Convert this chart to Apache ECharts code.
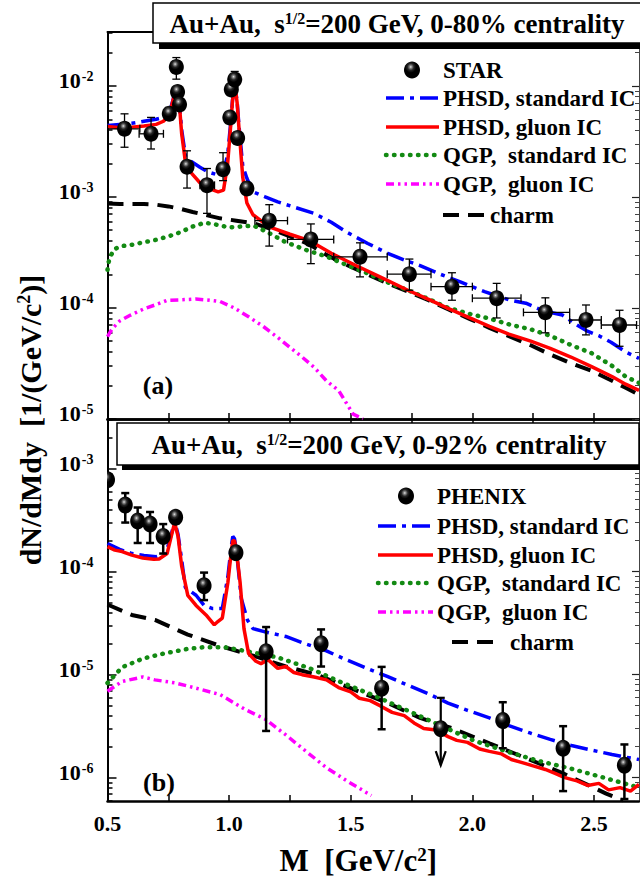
<!DOCTYPE html>
<html><head><meta charset="utf-8">
<script src="https://cdn.jsdelivr.net/npm/echarts@6/dist/echarts.min.js"></script>
<style>html,body{margin:0;padding:0;background:#fff}#c{width:640px;height:877px}</style>
</head><body><div id="c"></div>
<script>
// ================= DATA =================
// x-axis ticks / labels (GeV/c^2)
const xTickVals = [0.5,0.75,1.0,1.25,1.5,1.75,2.0,2.25,2.5];
const xLabelVals = [0.5,1.0,1.5,2.0,2.5];
const topDecades = [1e-5,1e-4,1e-3,1e-2];
const botDecades = [1e-6,1e-5,1e-4,1e-3];

// ---- panel (a): STAR, 0-80% ----
const starM   = [0.57,0.679,0.754,0.783,0.788,0.796,0.827,0.909,0.975,1.003,1.009,1.023,1.035,1.073,1.165,1.336,1.538,1.741,1.916,2.10,2.30,2.467,2.605];
const starY   = [4.1e-3,3.7e-3,5.6e-3,1.48e-2,8.8e-3,6.8e-3,1.87e-3,1.27e-3,1.77e-3,5.2e-3,9.3e-3,1.14e-2,3.4e-3,1.19e-3,6.1e-4,4.13e-4,2.88e-4,2.01e-4,1.55e-4,1.22e-4,9.1e-5,7.76e-5,7.0e-5];
const starYlo = [2.8e-3,2.7e-3,4.9e-3,1.15e-2,8.2e-3,6.2e-3,1.2e-3,7.1e-4,1.4e-3,4.7e-3,8.6e-3,9.8e-3,3.0e-3,1.05e-3,3.6e-4,2.5e-4,1.9e-4,1.44e-4,1.17e-4,8.1e-5,5.95e-5,5.7e-5,4.5e-5];
const starYhi = [5.6e-3,5.2e-3,6.4e-3,1.8e-2,9.4e-3,7.4e-3,2.6e-3,1.8e-3,2.5e-3,5.7e-3,1.0e-2,1.35e-2,3.8e-3,1.35e-3,8.5e-4,5.7e-4,3.85e-4,2.75e-4,2.07e-4,1.66e-4,1.23e-4,1.06e-4,9.5e-5];
const starXlo = [0.5,0.63,null,null,null,null,0.81,0.88,null,null,null,null,null,null,1.106,1.24,1.43,1.65,1.83,2.0,2.21,2.40,2.53];
const starXhi = [0.633,0.73,null,null,null,null,0.85,0.94,null,null,null,null,null,null,1.24,1.43,1.65,1.83,2.0,2.2,2.40,2.53,2.675];

const aStdM = [0.50,0.55,0.60,0.65,0.70,0.73,0.755,0.77,0.783,0.795,0.805,0.821,0.846,0.88,0.913,0.955,0.977,0.994,1.005,1.014,1.02,1.026,1.033,1.04,1.056,1.073,1.098,1.148,1.2,1.266,1.349,1.42,1.484,1.57,1.652,1.72,1.785,1.87,1.953,2.05,2.155,2.22,2.29,2.37,2.43,2.47,2.52,2.57,2.63,2.685];
const aStdY = [4.4e-3,4.5e-3,4.6e-3,4.8e-3,5.0e-3,5.2e-3,5.8e-3,7.6e-3,1.0e-2,7.2e-3,4.0e-3,2.3e-3,2.07e-3,1.85e-3,1.68e-3,1.57e-3,1.68e-3,2.4e-3,4.3e-3,7.5e-3,9.0e-3,9.3e-3,7.2e-3,4.5e-3,1.9e-3,1.47e-3,1.11e-3,1.0e-3,9.0e-4,8.1e-4,7.1e-4,5.9e-4,4.8e-4,3.8e-4,3.1e-4,2.7e-4,2.4e-4,2.0e-4,1.7e-4,1.4e-4,1.17e-4,1.1e-4,9.4e-5,8.6e-5,7.0e-5,6.2e-5,5.6e-5,4.9e-5,4.0e-5,3.5e-5];

const aGluM = [0.50,0.55,0.60,0.65,0.70,0.73,0.755,0.77,0.783,0.795,0.805,0.821,0.846,0.88,0.913,0.955,0.977,0.994,1.005,1.014,1.02,1.026,1.033,1.04,1.056,1.073,1.098,1.165,1.25,1.333,1.42,1.517,1.62,1.735,1.82,1.90,1.98,2.07,2.15,2.24,2.32,2.405,2.49,2.574,2.63,2.685];
const aGluY = [4.3e-3,4.2e-3,4.25e-3,4.35e-3,4.5e-3,4.8e-3,5.5e-3,7.5e-3,1.0e-2,7.0e-3,3.7e-3,2.0e-3,1.63e-3,1.34e-3,1.2e-3,1.11e-3,1.15e-3,2.0e-3,4.0e-3,7.4e-3,9.0e-3,9.3e-3,7.0e-3,4.3e-3,1.5e-3,8.8e-4,6.9e-4,5.37e-4,4.6e-4,4.0e-4,3.1e-4,2.43e-4,1.9e-4,1.44e-4,1.19e-4,9.9e-5,8.3e-5,6.8e-5,5.8e-5,5.0e-5,4.3e-5,3.6e-5,2.95e-5,2.4e-5,2.05e-5,1.8e-5];

const aQgpStdM = [0.50,0.505,0.515,0.53,0.56,0.60,0.65,0.70,0.75,0.80,0.85,0.90,0.95,1.00,1.05,1.10,1.15,1.233,1.32,1.40,1.48,1.567,1.65,1.735,1.82,1.90,1.99,2.07,2.16,2.24,2.32,2.407,2.49,2.574,2.63,2.685];
const aQgpStdY = [2.2e-4,2.6e-4,3.0e-4,3.4e-4,3.6e-4,3.7e-4,3.9e-4,4.1e-4,4.4e-4,4.8e-4,5.4e-4,5.85e-4,5.6e-4,5.3e-4,5.4e-4,5.5e-4,4.9e-4,3.9e-4,3.3e-4,2.9e-4,2.45e-4,2.05e-4,1.7e-4,1.44e-4,1.2e-4,1.0e-4,8.8e-5,8.0e-5,7.0e-5,6.4e-5,5.6e-5,4.6e-5,3.9e-5,3.0e-5,2.4e-5,2.1e-5];

const aQgpGluM = [0.50,0.52,0.55,0.595,0.65,0.695,0.746,0.80,0.863,0.92,0.963,1.02,1.08,1.14,1.2,1.25,1.30,1.35,1.40,1.45,1.51,1.55];
const aQgpGluY = [5.5e-5,6.5e-5,7.6e-5,8.6e-5,9.8e-5,1.06e-4,1.17e-4,1.18e-4,1.2e-4,1.17e-4,1.14e-4,1.0e-4,8.3e-5,6.8e-5,5.4e-5,4.4e-5,3.6e-5,2.9e-5,2.2e-5,1.8e-5,1.1e-5,1.0e-5];

const aCharmM = [0.50,0.55,0.60,0.65,0.70,0.75,0.80,0.85,0.90,0.963,1.03,1.098,1.165,1.25,1.333,1.40,1.484,1.57,1.652,1.735,1.82,1.90,1.986,2.07,2.155,2.24,2.32,2.40,2.49,2.574,2.63,2.685];
const aCharmY = [8.7e-4,8.6e-4,8.6e-4,8.6e-4,8.5e-4,8.2e-4,7.8e-4,7.3e-4,6.9e-4,6.4e-4,6.1e-4,5.8e-4,5.2e-4,4.4e-4,3.7e-4,3.0e-4,2.43e-4,2.0e-4,1.66e-4,1.4e-4,1.17e-4,9.7e-5,8.0e-5,6.6e-5,5.5e-5,4.6e-5,3.8e-5,3.2e-5,2.7e-5,2.2e-5,1.9e-5,1.65e-5];

// ---- panel (b): PHENIX, 0-92% ----
const phxM   = [0.50,0.573,0.624,0.675,0.729,0.78,0.897,1.028,1.152,1.378,1.627,2.125,2.373,2.625];
const phxY   = [7.8e-4,4.44e-4,3.1e-4,2.9e-4,2.2e-4,3.37e-4,7.3e-5,1.53e-4,1.67e-5,2.0e-5,7.4e-6,3.58e-6,1.93e-6,1.32e-6];
const phxYlo = [7.8e-4,3.0e-4,1.9e-4,1.9e-4,1.5e-4,2.95e-4,5.3e-5,1.45e-4,2.84e-6,1.2e-5,2.95e-6,1.93e-6,7.4e-7,6.2e-7];
const phxYhi = [7.8e-4,5.8e-4,4.2e-4,3.8e-4,2.9e-4,3.7e-4,9.8e-5,1.6e-4,2.9e-5,2.75e-5,1.19e-5,5.4e-6,3.16e-6,2.1e-6];
// upper limit point
const limM = [1.87], limY = [2.98e-6], limTop = [5.96e-6], limTip = [1.32e-6];

const bStdM = [0.50,0.55,0.60,0.65,0.70,0.74,0.762,0.776,0.79,0.805,0.82,0.864,0.897,0.93,0.972,0.995,1.008,1.015,1.022,1.03,1.05,1.075,1.098,1.148,1.233,1.30,1.40,1.48,1.567,1.65,1.735,1.82,1.90,1.98,2.07,2.15,2.24,2.32,2.407,2.49,2.574,2.63,2.685];
const bStdY = [1.88e-4,1.65e-4,1.5e-4,1.44e-4,1.4e-4,1.5e-4,2.3e-4,3.1e-4,2.3e-4,1.3e-4,7.0e-5,5.9e-5,4.7e-5,4.4e-5,4.4e-5,9.0e-5,1.7e-4,2.2e-4,2.1e-4,1.6e-4,5.5e-5,3.4e-5,2.8e-5,2.6e-5,2.35e-5,2.05e-5,1.7e-5,1.4e-5,1.15e-5,9.6e-6,7.9e-6,6.5e-6,5.3e-6,4.5e-6,3.8e-6,3.2e-6,2.7e-6,2.35e-6,2.05e-6,1.85e-6,1.68e-6,1.58e-6,1.5e-6];

const bGluM = [0.50,0.53,0.56,0.60,0.645,0.69,0.712,0.745,0.762,0.776,0.79,0.805,0.83,0.864,0.905,0.939,0.955,0.972,0.995,1.008,1.015,1.022,1.03,1.045,1.061,1.08,1.11,1.131,1.16,1.2,1.233,1.266,1.30,1.35,1.40,1.45,1.50,1.535,1.58,1.62,1.67,1.72,1.76,1.80,1.85,1.90,1.936,1.98,2.03,2.07,2.12,2.16,2.205,2.25,2.30,2.34,2.38,2.43,2.474,2.52,2.56,2.607,2.65,2.685];
const bGluY = [1.75e-4,1.62e-4,1.57e-4,1.45e-4,1.36e-4,1.32e-4,1.33e-4,1.5e-4,2.2e-4,3.0e-4,2.2e-4,1.13e-4,5.9e-5,4.7e-5,3.8e-5,3.05e-5,3.3e-5,3.55e-5,7.9e-5,1.5e-4,2.0e-4,2.0e-4,1.6e-4,7.9e-5,2.8e-5,1.6e-5,1.35e-5,1.28e-5,1.4e-5,1.15e-5,1.2e-5,1.05e-5,1.0e-5,9.5e-6,8.9e-6,7.5e-6,6.8e-6,5.9e-6,5.6e-6,5.0e-6,4.3e-6,4.0e-6,3.4e-6,3.0e-6,2.9e-6,2.5e-6,2.3e-6,2.2e-6,1.9e-6,1.8e-6,1.7e-6,1.5e-6,1.4e-6,1.3e-6,1.2e-6,1.1e-6,1.0e-6,9.3e-7,8.4e-7,8.8e-7,7.6e-7,8.0e-7,7.4e-7,8.6e-7];

const bQgpStdM = [0.50,0.56,0.645,0.729,0.83,0.897,0.98,1.065,1.2,1.333,1.467,1.60,1.735,1.87,2.004,2.14,2.273,2.407,2.54,2.685];
const bQgpStdY = [8.3e-6,1.18e-5,1.43e-5,1.6e-5,1.78e-5,1.85e-5,1.85e-5,1.7e-5,1.47e-5,1.15e-5,8.3e-6,6.2e-6,4.46e-6,3.2e-6,2.3e-6,1.8e-6,1.45e-6,1.22e-6,1.0e-6,8.0e-7];

const bQgpGluM = [0.50,0.56,0.645,0.695,0.78,0.864,0.963,1.065,1.148,1.233,1.316,1.40,1.484,1.585];
const bQgpGluY = [6.9e-6,8.6e-6,9.5e-6,8.9e-6,8.3e-6,7.4e-6,6.4e-6,4.6e-6,3.7e-6,2.6e-6,1.8e-6,1.25e-6,9.3e-7,6.7e-7];

const bCharmM = [0.50,0.60,0.695,0.83,0.963,1.098,1.233,1.366,1.517,1.652,1.785,1.92,2.07,2.22,2.373,2.474,2.55,2.62];
const bCharmY = [4.8e-5,3.8e-5,3.4e-5,2.45e-5,1.9e-5,1.53e-5,1.2e-5,9.9e-6,7.1e-6,5.3e-6,3.8e-6,3.0e-6,2.15e-6,1.55e-6,1.1e-6,8.5e-7,7.0e-7,6.0e-7];

// ================= CHART =================
const FONT = "'Liberation Serif', 'Times New Roman', serif";
const pair = (xs, ys) => xs.map((x, i) => [x, ys[i]]);
const chart = echarts.init(document.getElementById('c'), null, {renderer: 'svg'});

const ballColor = {type:'radial', x:0.42, y:0.32, r:0.62, colorStops:[
  {offset:0, color:'#e6e6e6'},{offset:0.12, color:'#8c8c8c'},{offset:0.32, color:'#262626'},{offset:0.55, color:'#000000'},{offset:1, color:'#000000'}]};

const ST = {
  std:  {color:'#0000ff', width:3.5, type:[18,6,4,6]},
  glu:  {color:'#ff0000', width:3.5, type:'solid'},
  qstd: {color:'#138a13', width:4.5, type:[0.5,7.5], cap:'round'},
  qglu: {color:'#ff00ff', width:3.5, type:[8,4,2.5,4,2.5,4]},
  charm:{color:'#000000', width:4, type:[16,9]}
};
function lineSeries(name, xs, ys, st, xi, yi) {
  return {type:'line', name, xAxisIndex:xi, yAxisIndex:yi, data:pair(xs, ys), showSymbol:false, symbol:'none',
    lineStyle:{color:st.color, width:st.width, type:st.type, cap:st.cap || 'butt'}, z:2, clip:true, animation:false};
}
function minorVals(decs, lo, hi) {
  const out = [];
  decs.concat([decs[0]/10]).forEach(d => { for (let k=2;k<=9;k++){ const v=d*k; if (v>lo && v<hi) out.push(v);} });
  return out;
}
const yRich = {
  b:{fontSize:22, fontFamily:FONT, fontWeight:'bold', color:'#000'},
  s:{fontSize:14, fontFamily:FONT, fontWeight:'bold', color:'#000', verticalAlign:'top', padding:[0,0,0,1]}
};
function yLabel(v){ const e = Math.round(Math.log10(v)); return '{b|10}{s|' + e + '}'; }

const TOPMIN = 0.995e-5, TOPMAX = 0.0306, BOTMIN = 5.93e-7, BOTMAX = 3.04e-3;
function yAxes(grid, min, max, decs) {
  const minors = minorVals(decs, min, max);
  return [
    {type:'log', gridIndex:grid, min, max, position:'left',
      axisLine:{show:true, lineStyle:{color:'#000', width:2}},
      axisTick:{show:true, inside:true, length:9, customValues:decs, lineStyle:{color:'#000', width:1.5}},
      axisLabel:{show:true, formatter:yLabel, rich:yRich, fontFamily:FONT, fontWeight:'bold', fontSize:22, color:'#000',
        margin:14, showMinLabel:false, showMaxLabel:false, padding:[0,0,10,0]},
      splitLine:{show:false}},
    {type:'log', gridIndex:grid, min, max, position:'left',
      axisLine:{show:false}, axisLabel:{show:false}, splitLine:{show:false},
      axisTick:{show:true, inside:true, length:5, customValues:minors, lineStyle:{color:'#000', width:1.5}}},
    {type:'log', gridIndex:grid, min, max, position:'right',
      axisLine:{show:true, lineStyle:{color:'#444', width:1}}, axisLabel:{show:false}, splitLine:{show:false},
      axisTick:{show:true, inside:true, length:7, customValues:decs, lineStyle:{color:'#222', width:1.2}}},
    {type:'log', gridIndex:grid, min, max, position:'right',
      axisLine:{show:false}, axisLabel:{show:false}, splitLine:{show:false},
      axisTick:{show:true, inside:true, length:4, customValues:minors, lineStyle:{color:'#444', width:1}}}
  ];
}
const XMIN = 0.5, XMAX = 2.685;
function xAx(grid, pos, opts) {
  return Object.assign({type:'value', gridIndex:grid, min:XMIN, max:XMAX, position:pos, splitLine:{show:false},
    axisLine:{show:true, onZero:false, lineStyle:{color:'#000', width:2.5}},
    axisTick:{show:true, inside:true, length:6, customValues:xTickVals, lineStyle:{color:'#000', width:1.5}},
    axisLabel:{show:false}}, opts || {});
}

function errRender(capW, lw) {
  return function(params, api) {
    const m = api.value(0), y = api.value(1), ylo = api.value(2), yhi = api.value(3), xlo = api.value(4), xhi = api.value(5);
    const lo = api.coord([m, ylo]), hi = api.coord([m, yhi]);
    const st = {stroke:'#000', lineWidth:lw};
    const ch = [];
    if (Math.abs(lo[1]-hi[1]) > 1) {
      ch.push({type:'line', shape:{x1:lo[0], y1:lo[1], x2:hi[0], y2:hi[1]}, style:st});
      ch.push({type:'line', shape:{x1:lo[0]-capW, y1:lo[1], x2:lo[0]+capW, y2:lo[1]}, style:st});
      ch.push({type:'line', shape:{x1:hi[0]-capW, y1:hi[1], x2:hi[0]+capW, y2:hi[1]}, style:st});
    }
    if (!isNaN(xlo) && !isNaN(xhi) && xhi > xlo) {
      const l = api.coord([xlo, y]), r = api.coord([xhi, y]);
      ch.push({type:'line', shape:{x1:l[0], y1:l[1], x2:r[0], y2:r[1]}, style:st});
      ch.push({type:'line', shape:{x1:l[0], y1:l[1]-capW, x2:l[0], y2:l[1]+capW}, style:st});
      ch.push({type:'line', shape:{x1:r[0], y1:r[1]-capW, x2:r[0], y2:r[1]+capW}, style:st});
    }
    return {type:'group', children:ch};
  };
}
function limRender(params, api) {
  const m = api.value(0), top = api.coord([m, api.value(1)]), tip = api.coord([m, api.value(2)]);
  const st = {stroke:'#000', lineWidth:2.2, fill:'none'};
  return {type:'group', children:[
    {type:'line', shape:{x1:top[0], y1:top[1], x2:tip[0], y2:tip[1]}, style:st},
    {type:'line', shape:{x1:top[0]-4, y1:top[1], x2:top[0]+4, y2:top[1]}, style:st},
    {type:'polyline', shape:{points:[[tip[0]-5, tip[1]-14],[tip[0], tip[1]],[tip[0]+5, tip[1]-14]]}, style:st}
  ]};
}
// balls drawn through a clipped custom series so the edge point is cut by the frame
function ballRender(rx, ry) {
  return function(params, api) {
    const c = api.coord([api.value(0), api.value(1)]);
    return {type:'ellipse', shape:{cx:c[0], cy:c[1], rx, ry}, style:{fill:ballColor}};
  };
}

const series = [
  lineSeries('QGP, gluon IC', aQgpGluM, aQgpGluY, ST.qglu, 0, 0),
  lineSeries('charm', aCharmM, aCharmY, ST.charm, 0, 0),
  lineSeries('QGP, standard IC', aQgpStdM, aQgpStdY, ST.qstd, 0, 0),
  lineSeries('PHSD, standard IC', aStdM, aStdY, ST.std, 0, 0),
  lineSeries('PHSD, gluon IC', aGluM, aGluY, ST.glu, 0, 0),
  {type:'custom', name:'STAR err', xAxisIndex:0, yAxisIndex:0, renderItem:errRender(4, 1.3), z:3, clip:true, animation:false,
    encode:{x:0, y:1}, data:starM.map((m,i)=>[m, starY[i], starYlo[i], starYhi[i], starXlo[i]===null?NaN:starXlo[i], starXhi[i]===null?NaN:starXhi[i]])},
  {type:'custom', name:'STAR', xAxisIndex:0, yAxisIndex:0, renderItem:ballRender(7.5, 8), encode:{x:0, y:1},
    data:pair(starM, starY), z:4, clip:true, animation:false},

  lineSeries('QGP, gluon IC', bQgpGluM, bQgpGluY, ST.qglu, 2, 4),
  lineSeries('charm', bCharmM, bCharmY, ST.charm, 2, 4),
  lineSeries('QGP, standard IC', bQgpStdM, bQgpStdY, ST.qstd, 2, 4),
  lineSeries('PHSD, standard IC', bStdM, bStdY, ST.std, 2, 4),
  lineSeries('PHSD, gluon IC', bGluM, bGluY, ST.glu, 2, 4),
  {type:'custom', name:'PHENIX err', xAxisIndex:2, yAxisIndex:4, renderItem:errRender(4, 2.5), z:3, clip:true, animation:false,
    encode:{x:0, y:1}, data:phxM.map((m,i)=>[m, phxY[i], phxYlo[i], phxYhi[i], NaN, NaN])},
  {type:'custom', name:'PHENIX limit', xAxisIndex:2, yAxisIndex:4, renderItem:limRender, z:3, clip:true, animation:false,
    encode:{x:0, y:1}, data:limM.map((m,i)=>[m, limTop[i], limTip[i]])},
  {type:'custom', name:'PHENIX', xAxisIndex:2, yAxisIndex:4, renderItem:ballRender(7.5, 8.5), encode:{x:0, y:1},
    data:pair(phxM.concat(limM), phxY.concat(limY)), z:4, clip:true, animation:false}
];

// ---------- graphic: title boxes, legends, labels ----------
const titleRich = {
  t:{fontSize:27, fontFamily:FONT, fontWeight:'bold', fill:'#000', color:'#000'},
  s:{fontSize:16, fontFamily:FONT, fontWeight:'bold', fill:'#000', color:'#000', verticalAlign:'top'}
};
function titleBox(x, y, w, h, off, cx, text) {
  return [
    {type:'rect', z:100, shape:{x:x+off, y:y+off, width:w, height:h}, style:{fill:'#000'}},
    {type:'rect', z:101, shape:{x, y, width:w, height:h}, style:{fill:'#fff', stroke:'#000', lineWidth:1.5}},
    {type:'text', z:102, x:cx, y:y+h/2+1, style:{text, rich:titleRich, fontFamily:FONT, fontWeight:'bold', fontSize:27, align:'center', verticalAlign:'middle'}}
  ];
}
const legFont = {fontSize:23, fontFamily:FONT, fontWeight:'bold', fill:'#000'};
function legLine(x1, x2, y, st, tx, label) {
  return [
    {type:'line', z:100, shape:{x1, y1:y, x2, y2:y}, style:{stroke:st.color, lineWidth:st.width, lineDash:st.type==='solid'?null:st.type, lineCap:st.cap||'butt'}},
    {type:'text', z:100, x:tx, y, style:Object.assign({text:label, align:'left', verticalAlign:'middle'}, legFont)}
  ];
}
function legBall(x, y, tx, label) {
  return [
    {type:'ellipse', z:100, shape:{cx:x, cy:y, rx:8, ry:8.5}, style:{fill:ballColor}},
    {type:'text', z:100, x:tx, y, style:Object.assign({text:label, align:'left', verticalAlign:'middle'}, legFont)}
  ];
}
const legNames = ['PHSD, standard IC','PHSD, gluon IC','QGP,  standard IC','QGP,  gluon IC','charm'];
const legStyles = [ST.std, ST.glu, ST.qstd, ST.qglu, ST.charm];
let graphics = [];
graphics = graphics.concat(titleBox(153, 3, 490, 40, 6, 397, '{t|Au+Au,  s}{s|1/2}{t|=200 GeV, 0-80% centrality}'));
graphics = graphics.concat(titleBox(117, 423, 522, 42, 5, 379, '{t|Au+Au,  s}{s|1/2}{t|=200 GeV, 0-92% centrality}'));
// top legend
graphics = graphics.concat(legBall(412, 70, 443, 'STAR'));
[98,127,155,184].forEach((y,i)=>{ graphics = graphics.concat(legLine(386, 439, y, legStyles[i], 443, legNames[i])); });
graphics = graphics.concat(legLine(443, 484, 215, ST.charm, 490, 'charm'));
// bottom legend
graphics = graphics.concat(legBall(406, 496, 437, 'PHENIX'));
[526,555,583,612].forEach((y,i)=>{ graphics = graphics.concat(legLine(378, 433, y, legStyles[i], 437, legNames[i])); });
graphics = graphics.concat(legLine(452, 499, 642, ST.charm, 510, 'charm'));
// panel labels
const panFont = {fontSize:26, fontFamily:FONT, fontWeight:'bold', fill:'#000'};
graphics.push({type:'text', z:100, x:158, y:385, style:Object.assign({text:'(a)', align:'center', verticalAlign:'middle'}, panFont)});
graphics.push({type:'text', z:100, x:159, y:782, style:Object.assign({text:'(b)', align:'center', verticalAlign:'middle'}, panFont)});
// y-axis title spanning both panels
graphics.push({type:'text', z:100, x:30, y:420, rotation:Math.PI/2, style:{
  text:'{t|dN/dMdy  [1/(GeV/c}{s|2}{t|)]}', align:'center', verticalAlign:'middle', fontFamily:FONT, fontWeight:'bold', fontSize:30,
  rich:{t:{fontSize:30, fontFamily:FONT, fontWeight:'bold', fill:'#000', color:'#000'},
        s:{fontSize:18, fontFamily:FONT, fontWeight:'bold', fill:'#000', color:'#000', verticalAlign:'top'}}}});

const option = {
  animation:false,
  backgroundColor:'#fff',
  textStyle:{fontFamily:FONT},
  grid:[{left:107.5, top:32, width:531.5, height:387}, {left:107.5, top:419, width:531.5, height:392}],
  xAxis:[
    xAx(0, 'bottom'),
    xAx(0, 'top', {axisTick:{show:false}, axisLine:{show:true, onZero:false, lineStyle:{color:'#000', width:2}}}),
    xAx(1, 'bottom', {
      axisLabel:{show:true, customValues:xLabelVals, formatter:v=>v.toFixed(1), margin:11, fontSize:22, fontFamily:FONT, fontWeight:'bold', color:'#000'},
      name:'{t|M  [GeV/c}{s|2}{t|]}', nameLocation:'middle', nameGap:44,
      nameTextStyle:{fontFamily:FONT, fontWeight:'bold', fontSize:31, padding:[0,30,0,0],
        rich:{t:{fontSize:31, fontFamily:FONT, fontWeight:'bold', color:'#000'}, s:{fontSize:19, fontFamily:FONT, fontWeight:'bold', color:'#000', verticalAlign:'top'}}}}),
    xAx(1, 'top', {axisTick:{show:true, inside:true, length:5, customValues:xTickVals, lineStyle:{color:'#000', width:1.5}}})
  ],
  yAxis: yAxes(0, TOPMIN, TOPMAX, topDecades).concat(yAxes(1, BOTMIN, BOTMAX, botDecades)),
  series,
  graphic:{elements:graphics}
};
chart.setOption(option);
</script></body></html>
